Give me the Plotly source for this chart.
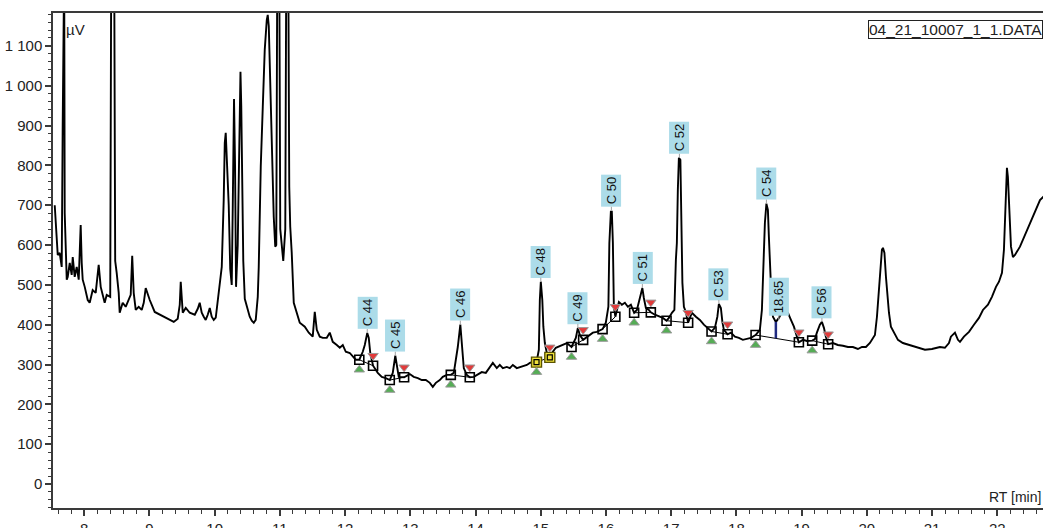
import plotly.graph_objects as go

# ---------------- data ----------------
rt = [7.548, 7.578, 7.594, 7.624, 7.655, 7.670, 7.681, 7.693, 7.701, 7.716, 7.732, 7.747, 7.778, 7.808,
      7.824, 7.854, 7.885, 7.916, 7.946, 7.962, 7.977, 8.008, 8.054, 8.084, 8.130, 8.176, 8.222, 8.253,
      8.284, 8.314, 8.345, 8.399, 8.414, 8.437, 8.460, 8.475, 8.498, 8.529, 8.544, 8.590, 8.636, 8.683,
      8.713, 8.736, 8.759, 8.790, 8.836, 8.882, 8.913, 8.943, 8.974, 9.005, 9.081, 9.158, 9.235, 9.311,
      9.373, 9.434, 9.465, 9.480, 9.495, 9.511, 9.557, 9.618, 9.695, 9.741, 9.771, 9.802, 9.833, 9.863,
      9.894, 9.925, 9.955, 9.986, 10.017, 10.048, 10.078, 10.109, 10.139, 10.155, 10.170, 10.186, 10.216,
      10.239, 10.262, 10.278, 10.297, 10.313, 10.328, 10.354, 10.377, 10.396, 10.408, 10.423, 10.439,
      10.462, 10.492, 10.538, 10.569, 10.600, 10.630, 10.661, 10.676, 10.707, 10.738, 10.768, 10.799,
      10.814, 10.830, 10.845, 10.876, 10.906, 10.929, 10.945, 10.960, 10.991, 11.006, 11.029, 11.052,
      11.083, 11.098, 11.129, 11.144, 11.159, 11.182, 11.213, 11.259, 11.305, 11.382, 11.443, 11.504,
      11.535, 11.566, 11.612, 11.658, 11.719, 11.765, 11.811, 11.873, 11.919, 11.965, 12.011, 12.072,
      12.118, 12.164, 12.218, 12.271, 12.302, 12.340, 12.363, 12.386, 12.429, 12.455, 12.501, 12.563,
      12.624, 12.685, 12.731, 12.770, 12.800, 12.823, 12.905, 12.992, 13.053, 13.115, 13.176, 13.238,
      13.299, 13.345, 13.391, 13.452, 13.498, 13.560, 13.621, 13.667, 13.698, 13.728, 13.767, 13.790,
      13.820, 13.866, 13.912, 13.974, 14.035, 14.096, 14.158, 14.219, 14.265, 14.326, 14.372, 14.419,
      14.480, 14.526, 14.572, 14.633, 14.679, 14.725, 14.787, 14.833, 14.894, 14.935, 14.971, 14.986,
      15.001, 15.024, 15.040, 15.063, 15.093, 15.139, 15.185, 15.231, 15.293, 15.339, 15.400, 15.472,
      15.507, 15.538, 15.569, 15.599, 15.650, 15.691, 15.753, 15.799, 15.860, 15.906, 15.948, 15.998,
      16.037, 16.052, 16.075, 16.090, 16.106, 16.121, 16.144, 16.198, 16.244, 16.290, 16.336, 16.382,
      16.432, 16.474, 16.504, 16.543, 16.558, 16.581, 16.612, 16.658, 16.688, 16.750, 16.811, 16.872,
      16.929, 16.965, 17.011, 17.049, 17.072, 17.087, 17.102, 17.118, 17.141, 17.156, 17.172, 17.195,
      17.225, 17.260, 17.317, 17.379, 17.440, 17.501, 17.563, 17.619, 17.670, 17.708, 17.731, 17.762,
      17.785, 17.808, 17.865, 17.915, 17.977, 18.038, 18.099, 18.161, 18.222, 18.294, 18.329, 18.360,
      18.391, 18.414, 18.437, 18.460, 18.483, 18.498, 18.514, 18.537, 18.560, 18.605, 18.652, 18.698,
      18.744, 18.790, 18.836, 18.882, 18.928, 18.958, 19.020, 19.081, 19.162, 19.204, 19.234, 19.280,
      19.311, 19.342, 19.372, 19.407, 19.480, 19.556, 19.633, 19.710, 19.786, 19.863, 19.925, 19.986,
      20.047, 20.093, 20.124, 20.155, 20.185, 20.208, 20.231, 20.247, 20.270, 20.293, 20.316, 20.339,
      20.369, 20.415, 20.477, 20.553, 20.660, 20.768, 20.891, 20.998, 21.121, 21.197, 21.259, 21.289,
      21.351, 21.397, 21.428, 21.489, 21.566, 21.642, 21.719, 21.780, 21.857, 21.918, 21.980, 22.026,
      22.072, 22.102, 22.118, 22.133, 22.148, 22.163, 22.179, 22.194, 22.210, 22.240, 22.271, 22.348,
      22.424, 22.501, 22.578, 22.655, 22.731]

uv = [700, 630, 575, 580, 545, 900, 1300, 1300, 680, 595, 513, 520, 555, 525,
      570, 520, 545, 513, 650, 555, 513, 495, 462, 455, 487, 480, 550, 495,
      475, 455, 475, 470, 1300, 1400, 1300, 560, 530, 480, 430, 455, 445, 462,
      475, 573, 480, 437, 445, 437, 455, 492, 475, 462, 432, 425, 420, 412,
      407, 415, 450, 508, 460, 430, 442, 430, 425, 440, 455, 430, 420, 412,
      425, 442, 420, 412, 418, 462, 500, 545, 713, 856, 882, 822, 700,
      540, 500, 700, 967, 800, 495, 600, 850, 1035, 950, 713, 560,
      465, 445, 420, 410, 405, 412, 470, 545, 797, 947, 1090, 1165,
      1178, 1150, 1048, 822, 671, 596, 600, 1300, 1300, 640, 588, 560,
      640, 1300, 1300, 746, 646, 580, 455, 430, 405, 395, 380, 370,
      432, 387, 370, 367, 367, 380, 357, 349, 342, 349, 332, 329,
      319, 312, 312, 332, 349, 379, 367, 329, 297, 291, 279, 269,
      266, 261, 279, 322, 294, 269, 268, 276, 269, 266, 261, 261,
      254, 244, 254, 261, 269, 274, 274, 279, 312, 344, 400, 344,
      291, 274, 268, 269, 274, 281, 279, 294, 304, 291, 299, 291,
      294, 291, 299, 291, 294, 296, 299, 304, 307, 306, 337, 462,
      508, 462, 395, 354, 329, 318, 332, 342, 347, 349, 354, 344,
      357, 367, 392, 374, 362, 367, 374, 380, 382, 385, 389, 405,
      445, 605, 684, 684, 605, 445, 420, 457, 450, 455, 445, 450,
      430, 437, 457, 482, 492, 467, 442, 437, 431, 425, 420, 417,
      410, 417, 430, 437, 563, 605, 739, 819, 814, 671, 505, 445,
      432, 405, 430, 420, 412, 400, 392, 383, 392, 420, 452, 442,
      407, 387, 376, 380, 370, 367, 362, 364, 367, 374, 380, 387,
      437, 563, 656, 704, 688, 621, 538, 470, 420, 407, 417, 432,
      437, 430, 412, 395, 370, 356, 362, 359, 360, 364, 380, 400,
      407, 392, 370, 351, 354, 349, 347, 344, 344, 339, 344, 344,
      354, 365, 374, 420, 487, 545, 588, 593, 580, 520, 470, 430,
      395, 380, 362, 354, 349, 344, 337, 339, 344, 342, 354, 370,
      380, 362, 357, 370, 382, 400, 417, 437, 450, 470, 495, 508,
      530, 588, 671, 756, 794, 771, 713, 646, 596, 570, 575, 596,
      626, 656, 684, 713, 725]

# labelled peaks (apex)
peak_names = ["C 44", "C 45", "C 46", "C 48", "C 49", "C 50", "C 51", "C 52", "C 53", "C 54", "18.65", "C 56"]
peak_rt = [12.340, 12.770, 13.767, 15.001, 15.569, 16.083, 16.558, 17.126, 17.731, 18.460, 18.650, 19.311]
peak_uv = [379, 322, 400, 508, 392, 686, 492, 819, 452, 704, 412, 407]

# integration windows (baseline start / end)
win_names = ["C 44", "C 45", "C 46", "C 48", "C 49", "C 50", "C 51", "C 52", "C 53", "C 54", "C 56"]
win_start_rt = [12.218, 12.685, 13.621, 14.935, 15.472, 15.948, 16.432, 16.929, 17.619, 18.294, 19.162]
win_start_uv = [312, 261, 274, 306, 344, 389, 430, 410, 383, 374, 360]
win_end_rt = [12.429, 12.905, 13.912, 15.139, 15.650, 16.144, 16.688, 17.260, 17.865, 18.958, 19.407]
win_end_uv = [297, 268, 268, 318, 362, 420, 431, 405, 376, 356, 351]
manual_windows = ["C 48"]

# drop line between C 54 and 18.65
drop_rt = [18.605]
drop_top_uv = [407]
drop_base_uv = [366]

file_label = "04_21_10007_1_1.DATA"

# ---------------- layout constants ----------------
W, H = 1043, 528
ML, MR, MT, MB = 53, 0, 13, 20
x_range = [7.5215, 22.701]
y_range = [-60.3, 1182.7]
uv_per_px = (y_range[1] - y_range[0]) / (H - MT - MB)
tri_off = 10 * uv_per_px

FONT = "Liberation Sans, Arial, sans-serif"
AX = "#3a3a3a"

fig = go.Figure()

fig.add_trace(go.Scatter(x=rt, y=uv, mode="lines",
                         line=dict(color="black", width=1.9), hoverinfo="skip"))

# baselines
bx, by = [], []
for s, su, e, eu in zip(win_start_rt, win_start_uv, win_end_rt, win_end_uv):
    bx += [s, e, None]
    by += [su, eu, None]
fig.add_trace(go.Scatter(x=bx, y=by, mode="lines", line=dict(color="black", width=1), hoverinfo="skip"))

# drop line
for d, t, b in zip(drop_rt, drop_top_uv, drop_base_uv):
    fig.add_trace(go.Scatter(x=[d, d], y=[t, b], mode="lines",
                             line=dict(color="#1f2a80", width=2.5), hoverinfo="skip"))

# squares
norm_x, norm_y, man_x, man_y = [], [], [], []
for n, s, su, e, eu in zip(win_names, win_start_rt, win_start_uv, win_end_rt, win_end_uv):
    if n in manual_windows:
        man_x += [s, e]; man_y += [su, eu]
    else:
        norm_x += [s, e]; norm_y += [su, eu]
fig.add_trace(go.Scatter(x=norm_x, y=norm_y, mode="markers",
                         marker=dict(symbol="square-open", size=9, color="black", line=dict(width=1.6)),
                         hoverinfo="skip"))
fig.add_trace(go.Scatter(x=man_x, y=man_y, mode="markers",
                         marker=dict(symbol="square", size=10, color="#f1e23a",
                                     line=dict(width=1.4, color="#5a5300")),
                         hoverinfo="skip"))
fig.add_trace(go.Scatter(x=man_x, y=man_y, mode="markers",
                         marker=dict(symbol="square-open", size=5, color="black", line=dict(width=1.2)),
                         hoverinfo="skip"))

# start (green) / end (red) triangles
fig.add_trace(go.Scatter(x=win_start_rt, y=[v - tri_off for v in win_start_uv], mode="markers",
                         marker=dict(symbol="triangle-up", size=9, color="#55ad55",
                                     line=dict(width=1, color="#9a9a9a")), hoverinfo="skip"))
fig.add_trace(go.Scatter(x=win_end_rt, y=[v + tri_off for v in win_end_uv], mode="markers",
                         marker=dict(symbol="triangle-down", size=9, color="#e23a3a",
                                     line=dict(width=1, color="#9a9a9a")), hoverinfo="skip"))

# peak labels
for name, x, y in zip(peak_names, peak_rt, peak_uv):
    half = (len(name) * 7.0 + 6) / 2
    fig.add_annotation(x=x, y=y, text=name, textangle=-90, showarrow=True,
                       arrowhead=0, arrowwidth=1, arrowcolor="#a0a0a0",
                       ax=0, ay=-(half + 3), bgcolor="#acdce9", borderpad=2,
                       font=dict(family=FONT, size=13, color="#111"))

# axis captions and file label
fig.add_annotation(xref="paper", yref="paper", x=0.011, y=1, xanchor="left", yanchor="top",
                   yshift=-6, text="µV", showarrow=False,
                   font=dict(family=FONT, size=15, color="#222"))
fig.add_annotation(xref="paper", yref="paper", x=1, y=0, xanchor="right", yanchor="bottom",
                   yshift=1, text="RT [min]", showarrow=False,
                   font=dict(family=FONT, size=14, color="#222"))
fig.add_annotation(xref="paper", yref="paper", x=(868 - ML) / (W - ML - MR), y=1, xanchor="left",
                   yanchor="top", yshift=-7, text=file_label, showarrow=False,
                   bordercolor="#222", borderwidth=1, borderpad=0, bgcolor="white",
                   font=dict(family=FONT, size=15.5, color="#222"))

fig.update_layout(
    width=W, height=H, margin=dict(l=ML, r=MR, t=MT, b=MB, autoexpand=False),
    plot_bgcolor="white", paper_bgcolor="white", showlegend=False,
    separators=". ",
    font=dict(family=FONT, size=15, color="#222"),
    xaxis=dict(range=x_range, showgrid=False, zeroline=False, showline=True, linecolor=AX,
               linewidth=1.5, mirror=True, ticks="outside", ticklen=6, tickwidth=1.5, tickcolor=AX,
               dtick=1, tick0=0, tickfont=dict(size=15, color="#222"), automargin=False,
               minor=dict(ticks="outside", dtick=0.2, ticklen=4, tickwidth=1, tickcolor=AX)),
    yaxis=dict(range=y_range, showgrid=False, zeroline=False, showline=True, linecolor=AX,
               linewidth=1.5, ticks="outside", ticklen=6, tickwidth=1.5, tickcolor=AX,
               dtick=100, tick0=0, separatethousands=True, tickfont=dict(size=15, color="#222"),
               automargin=False,
               minor=dict(ticks="outside", dtick=20, ticklen=3, tickwidth=1, tickcolor=AX)),
)

fig.write_html("out.html", config={"displayModeBar": False},
               post_script="document.body.style.margin='0px';document.body.style.overflow='hidden';")
